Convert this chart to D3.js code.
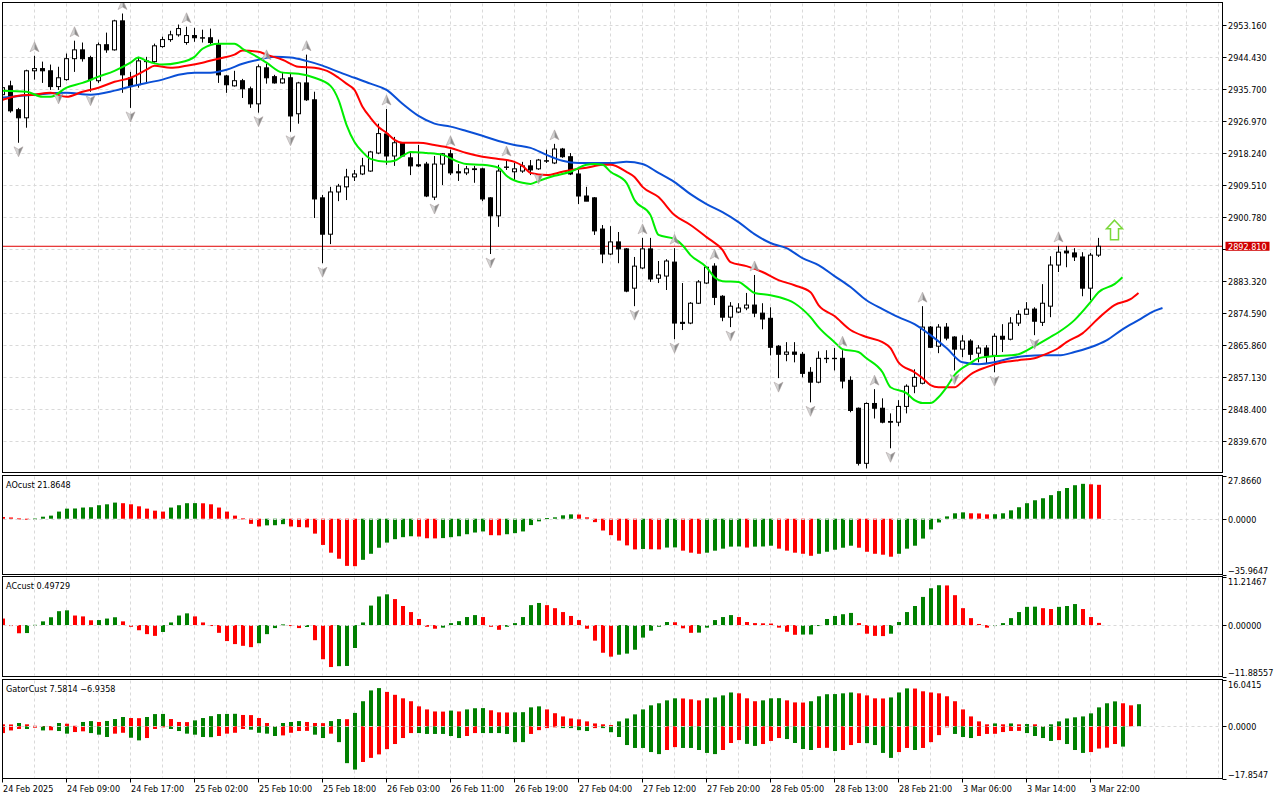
<!DOCTYPE html>
<html>
<head>
<meta charset="utf-8">
<script src="https://cdn.jsdelivr.net/npm/d3@7/dist/d3.min.js"></script>
<style>
body { margin: 0; background: #fff; }
svg text { font-family: Tahoma, "DejaVu Sans Condensed", "Liberation Sans", sans-serif; font-size: 9px; fill: #000; }
</style>
</head>
<body>
<svg id="chart" width="1280" height="800"></svg>
<script>

// time axis labels, one every 8 bars starting at bar 0
var timeLabels = ['24 Feb 2025', '24 Feb 09:00', '24 Feb 17:00', '25 Feb 02:00', '25 Feb 10:00',
    '25 Feb 18:00', '26 Feb 03:00', '26 Feb 11:00', '26 Feb 19:00', '27 Feb 04:00', '27 Feb 12:00',
    '27 Feb 20:00', '28 Feb 05:00', '28 Feb 13:00', '28 Feb 21:00', '3 Mar 06:00', '3 Mar 14:00', '3 Mar 22:00'];

var priceTicks = [2953.16, 2944.43, 2935.70, 2926.97, 2918.24, 2909.51, 2900.78, 2892.05,
    2883.32, 2874.59, 2865.86, 2857.13, 2848.40, 2839.67];

// H1 candles
var open = [
    2934.1, 2936.5, 2930.0, 2927.8, 2940.6, 2941.2, 2940.6, 2936.3, 2938.2, 2943.9,
    2946.3, 2944.2, 2937.9, 2947.7, 2946.3, 2954.2, 2938.7, 2936.8, 2943.1, 2943.1,
    2947.2, 2949.1, 2950.4, 2948.3, 2950.2, 2949.6, 2949.6, 2947.7, 2939.2, 2936.5,
    2937.9, 2935.7, 2931.6, 2941.4, 2939.0, 2937.3, 2938.7, 2928.9, 2937.3, 2932.7,
    2906.0, 2896.1, 2907.6, 2909.0, 2911.7, 2912.5, 2913.3, 2918.2, 2923.4, 2917.4,
    2921.0, 2916.9, 2915.0, 2915.2, 2906.2, 2915.2, 2918.0, 2913.1, 2912.8, 2913.9,
    2913.9, 2906.0, 2901.1, 2914.4, 2913.1, 2913.3, 2914.7, 2913.9, 2916.1, 2915.5,
    2919.3, 2917.2, 2912.5, 2906.5, 2906.0, 2897.5, 2890.7, 2894.0, 2892.1, 2881.4,
    2886.9, 2892.1, 2884.1, 2884.7, 2888.5, 2872.1, 2871.9, 2877.3, 2882.8, 2887.4,
    2879.2, 2873.5, 2874.9, 2876.0, 2876.8, 2874.6, 2873.2, 2865.6, 2863.4, 2864.0,
    2863.4, 2858.5, 2855.8, 2862.3, 2862.2, 2862.3, 2856.3, 2848.7, 2833.7, 2850.0,
    2848.7, 2845.1, 2844.9, 2849.2, 2854.7, 2855.5, 2870.8, 2865.6, 2870.8, 2868.1,
    2864.8, 2867.0, 2863.7, 2865.1, 2863.1, 2868.3, 2867.5, 2871.9, 2874.3, 2875.7,
    2872.1, 2876.5, 2887.7, 2891.5, 2891.0, 2889.9, 2881.4, 2890.4];
var high = [
    2936.8, 2937.9, 2930.5, 2940.9, 2944.7, 2943.1, 2942.3, 2941.7, 2945.3, 2948.8,
    2948.3, 2944.7, 2948.3, 2951.0, 2954.5, 2956.2, 2940.3, 2944.4, 2944.4, 2948.0,
    2949.9, 2951.5, 2953.2, 2952.6, 2952.3, 2951.8, 2952.1, 2949.1, 2939.5, 2940.6,
    2938.4, 2936.3, 2942.3, 2942.5, 2939.5, 2940.3, 2939.8, 2937.6, 2945.0, 2934.9,
    2906.8, 2909.0, 2909.8, 2913.9, 2913.6, 2916.9, 2918.8, 2926.2, 2930.2, 2922.6,
    2921.2, 2918.2, 2920.4, 2915.8, 2917.4, 2918.2, 2919.1, 2915.2, 2914.7, 2914.7,
    2914.2, 2906.2, 2915.0, 2916.3, 2915.5, 2915.8, 2916.3, 2916.6, 2919.1, 2920.7,
    2919.6, 2918.2, 2913.6, 2909.0, 2906.2, 2898.6, 2898.3, 2896.7, 2892.3, 2889.9,
    2895.1, 2895.1, 2888.8, 2889.3, 2892.3, 2882.8, 2877.6, 2883.6, 2887.4, 2888.2,
    2879.5, 2877.6, 2877.3, 2880.1, 2885.0, 2877.3, 2876.2, 2865.9, 2866.7, 2866.7,
    2864.0, 2859.9, 2864.2, 2864.5, 2865.1, 2864.5, 2857.4, 2848.9, 2850.3, 2853.9,
    2851.4, 2847.3, 2850.9, 2855.2, 2859.3, 2876.5, 2871.1, 2871.6, 2871.9, 2868.3,
    2868.6, 2867.5, 2865.9, 2865.9, 2869.1, 2871.6, 2873.5, 2875.4, 2877.6, 2876.2,
    2882.5, 2890.1, 2892.9, 2892.9, 2892.3, 2891.2, 2891.0, 2895.1];
var low = [
    2932.7, 2929.2, 2921.0, 2925.1, 2938.2, 2937.3, 2935.4, 2935.4, 2937.9, 2940.3,
    2943.1, 2934.9, 2937.3, 2945.5, 2946.1, 2934.6, 2930.5, 2936.0, 2937.3, 2942.8,
    2946.9, 2948.5, 2949.9, 2947.7, 2948.5, 2948.3, 2947.7, 2937.3, 2934.6, 2936.3,
    2933.2, 2930.5, 2929.2, 2937.1, 2937.1, 2937.1, 2924.0, 2926.2, 2932.4, 2900.5,
    2888.2, 2893.4, 2905.1, 2905.4, 2910.6, 2912.2, 2913.1, 2917.9, 2915.0, 2914.7,
    2917.2, 2912.2, 2914.4, 2906.2, 2905.4, 2909.5, 2912.2, 2910.6, 2912.2, 2910.1,
    2905.1, 2890.7, 2898.1, 2913.6, 2910.6, 2912.8, 2912.2, 2913.6, 2915.5, 2915.2,
    2916.9, 2912.2, 2904.3, 2905.1, 2895.9, 2888.2, 2890.4, 2888.2, 2880.3, 2876.5,
    2886.6, 2883.1, 2882.8, 2880.9, 2867.5, 2870.0, 2871.6, 2877.1, 2882.5, 2876.8,
    2872.4, 2870.8, 2874.6, 2875.4, 2873.5, 2870.2, 2863.1, 2856.9, 2861.5, 2861.2,
    2857.1, 2850.3, 2855.5, 2861.0, 2859.0, 2854.1, 2847.6, 2833.1, 2832.3, 2845.9,
    2844.6, 2837.8, 2843.8, 2847.3, 2852.8, 2855.2, 2865.1, 2863.7, 2867.2, 2859.0,
    2862.6, 2861.8, 2861.2, 2861.0, 2858.5, 2864.0, 2867.2, 2871.1, 2874.1, 2868.6,
    2871.1, 2873.5, 2885.8, 2887.1, 2888.8, 2879.2, 2878.1, 2889.9];
var close = [
    2936.0, 2929.7, 2927.8, 2940.6, 2941.2, 2940.6, 2936.3, 2938.7, 2943.9, 2946.3,
    2943.9, 2938.2, 2947.7, 2946.3, 2954.2, 2939.5, 2936.3, 2943.3, 2943.3, 2947.4,
    2949.1, 2950.4, 2952.1, 2950.2, 2949.6, 2949.5, 2948.3, 2939.5, 2936.8, 2937.9,
    2935.7, 2931.6, 2941.7, 2938.7, 2937.3, 2938.4, 2928.3, 2937.3, 2932.7, 2905.7,
    2896.1, 2907.6, 2909.2, 2911.7, 2912.5, 2914.7, 2918.5, 2923.5, 2917.4, 2921.0,
    2917.4, 2914.7, 2914.7, 2906.5, 2915.2, 2918.0, 2912.8, 2912.8, 2913.9, 2913.7,
    2905.7, 2901.1, 2913.3, 2914.3, 2913.9, 2914.7, 2913.6, 2916.3, 2916.0, 2919.3,
    2917.2, 2912.5, 2906.5, 2905.1, 2897.0, 2890.7, 2894.0, 2892.1, 2880.6, 2887.4,
    2892.1, 2883.9, 2885.0, 2888.8, 2871.9, 2871.8, 2877.3, 2883.1, 2887.1, 2878.9,
    2873.5, 2876.5, 2876.0, 2876.8, 2874.6, 2873.0, 2865.3, 2863.4, 2864.0, 2863.4,
    2858.2, 2855.8, 2862.3, 2862.2, 2862.3, 2856.1, 2848.1, 2833.7, 2850.0, 2848.7,
    2844.9, 2844.9, 2849.2, 2854.7, 2857.1, 2870.8, 2865.3, 2870.8, 2867.8, 2864.8,
    2867.0, 2863.4, 2865.1, 2862.9, 2868.3, 2867.5, 2871.9, 2874.3, 2875.7, 2872.4,
    2877.3, 2887.7, 2891.2, 2891.0, 2889.9, 2881.4, 2890.4, 2892.81];

// alligator lines, [bar, price] (shifted forward past the last bar)
var jaw = [[0, 2933.3], [4, 2934.1], [8, 2934.6], [11, 2934.1], [14, 2935.2], [16, 2936.3], [18, 2937.3],
    [20, 2938.2], [22, 2939.5], [24, 2940.1], [26, 2940.1], [28, 2940.9], [30, 2942.5], [32, 2943.6],
    [34, 2944.4], [36, 2944.2], [38, 2943.3], [40, 2942.0], [42, 2940.3], [44, 2938.7], [46, 2937.1],
    [48, 2935.4], [50, 2931.6], [52, 2928.3], [54, 2926.2], [56, 2925.4], [58, 2924.2], [60, 2922.9],
    [62, 2921.5], [64, 2920.4], [66, 2919.6], [68, 2917.7], [70, 2916.1], [72, 2915.5], [74, 2915.5],
    [76, 2915.5], [78, 2915.8], [80, 2915.2], [82, 2912.8], [84, 2910.3], [86, 2907.0], [88, 2904.3],
    [90, 2902.1], [92, 2899.4], [94, 2896.1], [96, 2893.7], [98, 2892.3], [100, 2889.6], [102, 2887.7],
    [104, 2884.7], [106, 2881.7], [108, 2878.1], [110, 2875.7], [112, 2873.5], [114, 2871.6],
    [116, 2868.6], [118, 2865.1], [120, 2861.2], [122, 2860.7], [124, 2861.2], [126, 2862.3],
    [128, 2862.9], [130, 2863.1], [132, 2863.1], [134, 2864.0], [136, 2865.3], [138, 2867.2],
    [140, 2870.2], [142, 2872.7], [144, 2875.2], [145, 2876.0]];
var teeth = [[0, 2932.7], [2, 2933.8], [4, 2934.1], [6, 2934.6], [8, 2933.5], [10, 2934.9], [12, 2936.0],
    [14, 2937.6], [16, 2938.7], [18, 2940.9], [19, 2942.0], [21, 2941.4], [23, 2942.0], [25, 2942.8],
    [27, 2943.9], [29, 2945.0], [30, 2946.1], [32, 2945.8], [33, 2945.0], [35, 2943.6], [37, 2941.7],
    [39, 2941.4], [41, 2940.1], [42, 2938.7], [43, 2937.1], [44, 2935.4], [45, 2930.8], [46, 2927.8],
    [47, 2925.3], [48, 2923.7], [49, 2921.8], [50, 2921.0], [52, 2921.0], [54, 2920.4], [56, 2919.6],
    [58, 2918.2], [60, 2917.2], [62, 2916.6], [64, 2915.8], [65, 2914.7], [66, 2912.8], [68, 2912.2],
    [70, 2913.1], [72, 2913.9], [73, 2914.2], [75, 2915.0], [76, 2915.0], [78, 2913.1], [79, 2911.7],
    [80, 2909.0], [82, 2906.2], [84, 2901.3], [86, 2898.6], [88, 2895.3], [90, 2891.8], [91, 2888.5],
    [93, 2887.4], [95, 2885.8], [97, 2883.6], [99, 2882.2], [101, 2880.3], [102, 2876.8], [104, 2873.8],
    [106, 2870.0], [108, 2868.1], [110, 2866.7], [111, 2865.1], [112, 2861.2], [114, 2858.5],
    [115, 2856.9], [116, 2855.0], [117, 2854.4], [119, 2854.4], [120, 2856.0], [121, 2857.9],
    [123, 2859.9], [125, 2861.2], [127, 2861.8], [129, 2862.3], [130, 2863.1], [132, 2865.1],
    [133, 2866.7], [135, 2869.1], [137, 2873.2], [139, 2876.8], [141, 2878.4], [142, 2880.1]];
var lips = [[0, 2935.2], [3, 2934.9], [5, 2933.5], [6, 2933.5], [8, 2936.0], [10, 2937.3], [12, 2939.0],
    [14, 2940.6], [16, 2942.8], [17, 2944.2], [18, 2943.3], [20, 2942.3], [22, 2942.8], [24, 2944.4],
    [25, 2946.6], [27, 2948.0], [29, 2948.0], [30, 2946.6], [32, 2944.2], [33, 2942.8], [35, 2940.1],
    [37, 2939.8], [39, 2938.7], [41, 2936.5], [42, 2932.7], [43, 2925.9], [44, 2921.2], [45, 2918.5],
    [46, 2916.6], [48, 2915.8], [49, 2916.1], [50, 2917.4], [51, 2918.5], [53, 2918.2], [55, 2917.7],
    [57, 2915.8], [58, 2915.2], [60, 2915.0], [62, 2914.2], [63, 2912.0], [65, 2910.1], [66, 2909.8],
    [67, 2910.6], [69, 2912.0], [71, 2913.1], [73, 2915.0], [74, 2915.2], [75, 2915.0], [76, 2913.1],
    [78, 2910.1], [79, 2905.4], [81, 2901.3], [82, 2895.9], [84, 2894.8], [85, 2893.1], [86, 2890.4],
    [88, 2887.1], [89, 2884.4], [90, 2883.3], [92, 2883.1], [93, 2881.7], [94, 2880.1], [96, 2879.5],
    [97, 2879.0], [99, 2877.3], [101, 2873.5], [102, 2870.8], [104, 2866.7], [105, 2864.8],
    [107, 2864.0], [108, 2862.3], [110, 2858.5], [111, 2854.4], [113, 2852.8], [114, 2850.9],
    [115, 2850.1], [116, 2850.1], [117, 2851.7], [118, 2854.4], [119, 2857.7], [121, 2861.0],
    [122, 2862.3], [124, 2862.9], [126, 2863.1], [127, 2863.4], [129, 2865.6], [131, 2868.1],
    [132, 2869.4], [134, 2872.7], [136, 2877.6], [137, 2880.3], [139, 2882.5], [140, 2884.4]];

// bill williams fractals (bar indices)
var fractalsUp = [4, 9, 15, 23, 33, 38, 48, 56, 63, 69, 80, 84, 89, 94, 105, 109, 115, 132];
var fractalsDown = [2, 7, 11, 16, 32, 36, 40, 54, 61, 67, 79, 84, 91, 97, 101, 108, 111, 119, 124, 129];

// buy signal arrow
var signalBar = 139;
var signalPrice = 2897.2;

var ao = [
    1.1, 0.8, 0.2, 0.0, 0.1, 1.3, 2.0, 4.6, 6.5, 6.6,
    7.2, 7.4, 8.7, 9.3, 10.4, 10.0, 9.3, 8.0, 6.5, 5.2,
    4.6, 7.2, 8.7, 10.0, 10.05, 9.95, 9.3, 7.2, 4.6, 2.0,
    0.2, -3.3, -5.0, -4.3, -4.2, -3.5, -5.0, -5.4, -5.6, -9.6,
    -16.9, -21.9, -25.8, -30.4, -30.6, -26.5, -22.6, -18.7, -15.4, -13.2,
    -11.9, -11.3, -11.5, -12.6, -12.7, -12.5, -11.9, -11.3, -10.0, -8.9,
    -8.2, -10.6, -10.7, -10.0, -9.3, -8.2, -4.1, -1.7, 0.4, 0.9,
    2.2, 2.8, 2.7, 0.9, -2.2, -7.6, -10.6, -14.1, -17.2, -19.8,
    -19.5, -19.7, -19.8, -18.6, -18.5, -20.6, -21.9, -22.6, -21.9, -20.6,
    -19.3, -18.0, -17.9, -18.6, -18.0, -17.9, -17.4, -19.3, -20.6, -21.9,
    -22.6, -23.9, -22.6, -21.3, -20.0, -18.7, -17.4, -18.7, -21.3, -22.6,
    -23.2, -24.5, -22.6, -19.3, -17.4, -12.8, -6.9, -2.4, 1.5, 3.5,
    4.1, 3.5, 3.4, 2.8, 2.9, 3.5, 5.4, 7.4, 10.0, 11.9,
    13.2, 15.2, 17.8, 19.8, 21.6, 22.5, 22.2, 21.8648];
var aoRange = [-35.9647, 27.8660];

var ac = [
    1.5, -0.2, -1.9, -1.85, 0.05, 0.85, 1.8, 3.2, 3.4, 2.2,
    2.0, 1.1, 1.15, 1.5, 1.8, 0.85, -0.4, -1.2, -2.1, -2.5,
    -1.6, 0.6, 2.2, 2.7, 2.0, 0.6, -0.15, -1.8, -3.7, -4.4,
    -4.8, -5.1, -4.2, -2.1, -0.7, 0.15, -0.1, -0.7, -0.45, -3.5,
    -7.9, -9.7, -9.5, -9.45, -5.3, 0.6, 4.5, 6.6, 7.1, 6.0,
    4.4, 3.0, 1.4, -0.4, -0.85, -0.6, 0.45, 0.9, 1.85, 2.3,
    1.85, -0.4, -1.1, -0.4, 0.45, 1.85, 4.6, 5.1, 4.6, 3.9,
    3.0, 2.1, 1.15, -0.85, -3.6, -6.4, -7.3, -6.85, -6.6, -5.7,
    -2.9, -1.3, -0.4, 0.7, 0.65, -0.75, -1.8, -1.75, -0.6, 1.15,
    1.85, 2.3, 1.85, 0.7, 0.45, 0.4, 0.35, -0.6, -1.55, -2.25,
    -2.2, -2.18, -0.15, 1.4, 2.1, 2.5, 2.8, 0.45, -2.0, -2.5,
    -2.55, -2.0, 0.7, 3.0, 4.4, 6.5, 8.5, 9.2, 9.15, 6.9,
    3.9, 1.6, 0.25, -0.6, -0.15, 0.45, 1.6, 3.0, 4.2, 4.25,
    3.9, 3.7, 4.2, 4.4, 4.85, 3.7, 1.85, 0.49729];
var acRange = [-11.88557, 11.21467];

// gator: upper runs 5 bars past the last candle, lower 3 bars
var gatorUp = [
    0.7, 0.65, 1.15, 0.7, 0.2, 0.1, 0.05, 1.15, 0.9, 0.2,
    1.5, 1.8, 1.5, 1.85, 2.5, 3.2, 2.85, 2.8, 3.2, 4.2,
    4.25, 2.5, 1.5, 1.45, 2.05, 2.85, 3.5, 4.2, 4.25, 4.3,
    3.9, 3.85, 2.85, 1.15, 0.1, 1.15, 1.5, 1.8, 1.5, 1.15,
    1.1, 1.8, 2.5, 2.45, 4.6, 8.6, 12.3, 13.1, 11.8, 10.8,
    9.6, 8.6, 6.85, 5.8, 5.1, 5.05, 5.4, 5.1, 5.8, 6.2,
    6.25, 5.5, 4.8, 4.75, 4.8, 4.85, 6.5, 6.85, 5.8, 4.5,
    3.4, 2.7, 2.4, 1.7, 1.0, 0.7, 0.45, 1.7, 2.7, 4.1,
    5.8, 7.2, 7.9, 8.9, 9.6, 9.55, 9.25, 8.9, 9.6, 9.9,
    10.6, 11.6, 11.3, 9.6, 8.6, 8.9, 9.6, 9.65, 8.9, 8.2,
    8.15, 8.6, 10.3, 11.0, 11.05, 11.3, 11.6, 11.3, 10.6, 9.6,
    9.55, 9.9, 11.6, 13.0, 12.95, 12.0, 11.6, 11.3, 10.3, 8.6,
    5.8, 3.4, 1.7, 0.7, 1.0, 0.7, 1.0, 0.7, 0.8, 0.7,
    0.1, 0.7, 1.7, 2.7, 3.1, 3.4, 4.45, 6.5, 7.9, 8.55,
    7.9, 7.2, 7.5814];
var gatorDown = [
    -2.3, -1.4, -0.9, -0.9, -0.45, -1.4, -1.35, -1.6, -2.5, -1.95,
    -1.7, -2.3, -2.85, -3.65, -2.5, -2.2, -3.9, -4.8, -4.0, -0.9,
    -0.2, -0.9, -1.6, -2.5, -2.85, -3.65, -3.7, -3.3, -2.5, -2.2,
    -0.9, -1.15, -2.2, -2.5, -3.3, -3.1, -2.2, -1.6, -1.55, -2.85,
    -4.0, -2.5, -5.4, -12.6, -14.8, -12.2, -10.8, -9.6, -7.8, -6.05,
    -4.0, -2.3, -2.3, -2.6, -2.6, -2.6, -3.3, -4.0, -3.3, -2.3,
    -2.3, -2.3, -2.3, -2.6, -5.4, -5.4, -2.6, -1.3, -0.6, -0.25,
    -0.6, -0.6, -1.3, -1.6, -0.6, -0.6, -2.0, -3.65, -6.4, -7.4,
    -7.4, -8.8, -9.5, -8.1, -7.1, -7.4, -7.4, -8.1, -9.1, -9.5,
    -8.1, -5.7, -4.7, -6.0, -6.7, -6.05, -5.0, -4.0, -4.35, -5.7,
    -7.75, -8.1, -7.4, -7.35, -8.45, -8.1, -6.4, -5.7, -5.75, -6.4,
    -9.1, -10.8, -8.8, -7.4, -8.1, -7.4, -5.4, -3.0, -0.2, -2.6,
    -3.65, -4.0, -3.3, -2.6, -2.55, -1.95, -1.6, -1.55, -2.3, -3.3,
    -4.0, -5.0, -4.7, -6.05, -8.1, -9.1, -8.8, -7.6, -7.3, -6.05,
    -6.9358];
var gatorRange = [-17.8547, 16.0415];


MtChart = function(svg, config) {
    this.svg = svg;
    this.config = config;
    this.x = d3.scaleLinear()
        .domain([0, 152])
        .range([config.x0, config.x0 + 152 * config.barStep]);
};

MtChart.prototype = {

    panel: function(name, top, bottom, domain) {
        var self = this;
        var cfg = self.config;

        var g = self.svg.append('g').attr('class', 'panel ' + name);
        var y = d3.scaleLinear().domain(domain).range([bottom, top]);

        var clipId = 'clip-' + name;
        g.append('clipPath').attr('id', clipId)
            .append('rect')
            .attr('x', cfg.left + 0.5).attr('y', top + 0.5)
            .attr('width', cfg.right - cfg.left - 1).attr('height', bottom - top - 1);

        var grid = g.append('g').attr('class', 'grid');
        grid.selectAll('.vgrid')
            .data(d3.range(4, 153, 4))
            .enter()
            .append('line')
            .attr('x1', function(i) { return self.x(i); })
            .attr('x2', function(i) { return self.x(i); })
            .attr('y1', top + 1)
            .attr('y2', bottom - 1)
            .attr('stroke', cfg.gridColor)
            .attr('stroke-dasharray', '3,3');

        var body = g.append('g').attr('clip-path', 'url(#' + clipId + ')');

        return {g: g, y: y, body: body, top: top, bottom: bottom};
    },

    border: function(p) {
        var cfg = this.config;
        p.g.append('rect')
            .attr('x', cfg.left).attr('y', p.top)
            .attr('width', cfg.right - cfg.left).attr('height', p.bottom - p.top)
            .attr('fill', 'none')
            .attr('stroke', '#000');
    },

    drawMain: function() {
        var self = this;
        var cfg = self.config;
        var p = self.panel('main', cfg.mainTop, cfg.mainBottom, [2831.2, 2959.2]);
        var y = p.y;

        //horizontal grid at price ticks
        p.g.select('.grid').selectAll('.hgrid')
            .data(priceTicks)
            .enter()
            .append('line')
            .attr('x1', cfg.left + 1)
            .attr('x2', cfg.right - 1)
            .attr('y1', function(v) { return Math.round(y(v)) + 0.5; })
            .attr('y2', function(v) { return Math.round(y(v)) + 0.5; })
            .attr('stroke', cfg.gridColor)
            .attr('stroke-dasharray', '3,3');

        var last = close[close.length - 1];

        //bid line
        p.body.append('line')
            .attr('x1', cfg.left).attr('x2', cfg.right)
            .attr('y1', y(last)).attr('y2', y(last))
            .attr('stroke', '#e00000');

        //candles
        var candles = p.body.selectAll('.candle')
            .data(d3.range(open.length))
            .enter()
            .append('g')
            .attr('class', 'candle');

        candles.append('line')
            .attr('x1', function(i) { return self.x(i); })
            .attr('x2', function(i) { return self.x(i); })
            .attr('y1', function(i) { return y(high[i]); })
            .attr('y2', function(i) { return y(low[i]); })
            .attr('stroke', '#000');

        candles.append('rect')
            .attr('x', function(i) { return self.x(i) - 2; })
            .attr('width', 4)
            .attr('y', function(i) { return y(Math.max(open[i], close[i])); })
            .attr('height', function(i) {
                return Math.max(0.01, Math.abs(y(open[i]) - y(close[i])));
            })
            .attr('fill', function(i) { return close[i] >= open[i] ? '#fff' : '#000'; })
            .attr('stroke', '#000');

        //alligator
        var line = d3.line()
            .x(function(d) { return self.x(d[0]); })
            .y(function(d) { return y(d[1]); })
            .curve(d3.curveMonotoneX);

        [[jaw, '#0a4fd6'], [teeth, '#ff0000'], [lips, '#00ee00']].forEach(function(s) {
            p.body.append('path')
                .datum(s[0])
                .attr('d', line)
                .attr('fill', 'none')
                .attr('stroke', s[1])
                .attr('stroke-width', 2);
        });

        //fractals
        var fractal = function(sel, dir) {
            sel.append('path')
                .attr('d', 'M0,-5 L-4.5,5 L0,2.5 Z')
                .attr('fill', '#d4d4d4');
            sel.append('path')
                .attr('d', 'M0,-5 L4.5,5 L0,2.5 Z')
                .attr('fill', '#8e8e8e');
            sel.append('path')
                .attr('d', 'M0,-5 L-4.5,5 L0,2.5 L4.5,5 Z')
                .attr('fill', 'none')
                .attr('stroke', '#a89c9c')
                .attr('stroke-width', 0.5);
        };

        p.body.selectAll('.fup')
            .data(fractalsUp)
            .enter()
            .append('g')
            .attr('transform', function(i) {
                return 'translate(' + self.x(i) + ',' + (y(high[i]) - 9) + ')';
            })
            .call(fractal);

        p.body.selectAll('.fdown')
            .data(fractalsDown)
            .enter()
            .append('g')
            .attr('transform', function(i) {
                return 'translate(' + self.x(i) + ',' + (y(low[i]) + 9) + ') scale(1,-1)';
            })
            .call(fractal);

        //buy signal
        p.body.append('path')
            .attr('transform', 'translate(' + self.x(signalBar) + ',' + y(signalPrice) + ')')
            .attr('d', 'M0,-10 L8,-1.5 L4,-1.5 L4,9.5 L-4,9.5 L-4,-1.5 L-8,-1.5 Z')
            .attr('fill', '#fff')
            .attr('stroke', '#7ad83a')
            .attr('stroke-width', 1.5);

        self.border(p);

        //price axis
        var ax = self.svg.append('g').attr('class', 'price-axis');
        ax.selectAll('.tick')
            .data(priceTicks)
            .enter()
            .append('line')
            .attr('x1', cfg.right).attr('x2', cfg.right + 4)
            .attr('y1', function(v) { return Math.round(y(v)) + 0.5; })
            .attr('y2', function(v) { return Math.round(y(v)) + 0.5; })
            .attr('stroke', '#000');

        // the label under the bid box is hidden in the terminal, so leave it out
        ax.selectAll('text')
            .data(priceTicks.filter(function(v) { return Math.abs(y(v) - y(last)) > 9; }))
            .enter()
            .append('text')
            .attr('x', cfg.right + 5.5)
            .attr('y', function(v) { return Math.round(y(v)) + 4; })
            .text(d3.format('.3f'));

        ax.append('rect')
            .attr('x', cfg.right + 3).attr('y', y(last) - 4.5)
            .attr('width', 44).attr('height', 9)
            .attr('fill', '#d00000');
        ax.append('text')
            .attr('x', cfg.right + 5.5)
            .attr('y', Math.round(y(last)) + 4)
            .style('fill', '#fff')
            .text(d3.format('.3f')(last));
    },

    drawHist: function(name, top, bottom, range, series, labelFmt, title) {
        var self = this;
        var cfg = self.config;
        var p = self.panel(name, top, bottom, range);
        var y = p.y;

        series.forEach(function(s) {
            p.body.selectAll('.bar-' + s.key)
                .data(s.values)
                .enter()
                .append('rect')
                .attr('x', function(v, i) { return self.x(i) - 1.5; })
                .attr('width', 4)
                .attr('y', function(v) { return Math.min(y(v), y(0)); })
                .attr('height', function(v) { return Math.max(1, Math.abs(y(v) - y(0))); })
                .attr('fill', function(v, i) {
                    if (i == 0) return cfg.red;
                    return s.rising(v, s.values[i - 1]) ? cfg.green : cfg.red;
                });
        });

        //zero line sits over the bars
        p.body.append('line')
            .attr('x1', cfg.left + 1).attr('x2', cfg.right - 1)
            .attr('y1', Math.round(y(0)) + 0.5).attr('y2', Math.round(y(0)) + 0.5)
            .attr('stroke', cfg.gridColor)
            .attr('stroke-dasharray', '3,3');

        p.g.append('text')
            .attr('x', 6)
            .attr('y', top + 12)
            .text(title);

        self.border(p);

        var ticks = [range[1], 0, range[0]];
        var ax = self.svg.append('g').attr('class', 'axis-' + name);
        ax.selectAll('line')
            .data(ticks)
            .enter()
            .append('line')
            .attr('x1', cfg.right).attr('x2', cfg.right + 4)
            .attr('y1', function(v) { return Math.round(y(v)) + 0.5; })
            .attr('y2', function(v) { return Math.round(y(v)) + 0.5; })
            .attr('stroke', '#000');
        ax.selectAll('text')
            .data(ticks)
            .enter()
            .append('text')
            .attr('x', cfg.right + 5.5)
            .attr('y', function(v, i) {
                if (i == 0) return y(v) + 8.5;
                if (i == 2) return y(v) - 1;
                return Math.round(y(v)) + 4;
            })
            .text(labelFmt);
    },

    drawTimeAxis: function() {
        var self = this;
        var cfg = self.config;
        var ax = self.svg.append('g').attr('class', 'time-axis');

        var ticks = ax.selectAll('.t')
            .data(timeLabels)
            .enter()
            .append('g')
            .attr('transform', function(l, k) { return 'translate(' + self.x(k * 8) + ',0)'; });

        ticks.append('line')
            .attr('y1', cfg.gatorBottom).attr('y2', cfg.gatorBottom + 4)
            .attr('stroke', '#000');
        ticks.append('text')
            .attr('x', 0.5)
            .attr('y', cfg.gatorBottom + 13)
            .text(_identity);
    },

    draw: function() {
        var self = this;
        var cfg = self.config;
        var up = function(v, prev) { return v > prev; };

        self.drawMain();

        self.drawHist('ao', cfg.aoTop, cfg.aoBottom, aoRange,
            [{key: 'ao', values: ao, rising: up}],
            d3.format('.4f'),
            'AOcust ' + d3.format('.4f')(ao[ao.length - 1]));

        self.drawHist('ac', cfg.acTop, cfg.acBottom, acRange,
            [{key: 'ac', values: ac, rising: up}],
            d3.format('.5f'),
            'ACcust ' + d3.format('.5f')(ac[ac.length - 1]));

        self.drawHist('gator', cfg.gatorTop, cfg.gatorBottom, gatorRange,
            [{key: 'up', values: gatorUp, rising: function(v, prev) { return v >= prev; }},
             {key: 'down', values: gatorDown, rising: function(v, prev) { return v <= prev; }}],
            d3.format('.4f'),
            'GatorCust ' + d3.format('.4f')(gatorUp[gatorUp.length - 1]) + ' ' +
                d3.format('.4f')(gatorDown[gatorDown.length - 1]));

        self.drawTimeAxis();
        return this;
    }
};

function _identity(d) { return d; }

new MtChart(d3.select('#chart'), {
    x0: 2.5,
    barStep: 8,
    left: 2.5,
    right: 1222.5,
    mainTop: 2.5,
    mainBottom: 472.5,
    aoTop: 475.5,
    aoBottom: 574.5,
    acTop: 576.5,
    acBottom: 676.5,
    gatorTop: 679.5,
    gatorBottom: 778.5,
    gridColor: '#d9d9d9',
    green: '#008000',
    red: '#ff0000'
}).draw();

</script>
</body>
</html>
